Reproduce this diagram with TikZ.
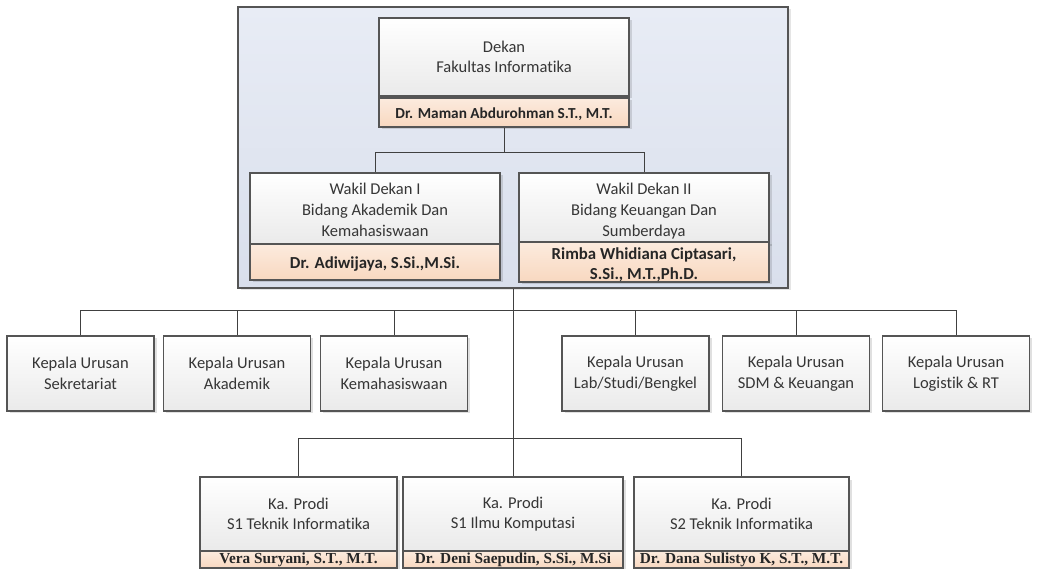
\documentclass[tikz,border=0pt]{standalone}
\usepackage{fontspec}
\setmainfont{Carlito}[Ligatures=NoCommon]
\newfontfamily\serifb{Liberation Serif}
\usetikzlibrary{shadows,calc}
\definecolor{bordc}{HTML}{555555}
\definecolor{linec}{HTML}{404040}
\definecolor{txtc}{HTML}{363636}
\definecolor{peachT}{HTML}{FCEBDE}
\definecolor{peachB}{HTML}{F8D8C0}
\definecolor{outerT}{HTML}{E8ECF5}
\definecolor{outerB}{HTML}{D9DFEC}
\definecolor{boxB}{HTML}{EAEAEA}
\newcommand\shiftlines[2]{\raisebox{#1}[\height][\depth]{\begin{tabular}{@{}c@{}}#2\end{tabular}}}
\tikzset{
  box/.style={draw=bordc, line width=1.1pt, rectangle, top color=white, bottom color=boxB,
    align=center, text=txtc, inner sep=0pt, font=\fontsize{16.5}{20.7}\selectfont,
    drop shadow={shadow xshift=2.5pt, shadow yshift=-2.5pt, fill=black, opacity=0.12}},
  namebox/.style={box, top color=peachT, bottom color=peachB, text=black!85,
    font=\fontsize{16.8}{20}\selectfont\bfseries},
  prodiname/.style={namebox, font=\fontsize{15.3}{16}\selectfont\serifb\bfseries},
  conn/.style={draw=linec, line width=1pt},
}
\begin{document}
\begin{tikzpicture}[x=1pt,y=-1pt]
\useasboundingbox (0,0) rectangle (1037,569);
\fill[white] (0,0) rectangle (1037,569);
% outer group
\node[draw=bordc, line width=1.2pt, top color=outerT, bottom color=outerB, inner sep=0pt,
  minimum width=550pt, minimum height=281pt,
  drop shadow={shadow xshift=2.5pt, shadow yshift=-2.5pt, fill=black, opacity=0.10}] (outer) at (513,147.5) {};
% dekan
\node[box, minimum width=250pt, minimum height=78pt, font=\fontsize{16.5}{20}\selectfont] (dekan) at (504,57) {Dekan\\Fakultas Informatika};
\node[namebox, minimum width=250pt, minimum height=29pt, font=\fontsize{15.3}{18}\selectfont\bfseries] (dekanN) at (504,112.5) {\shiftlines{-2.5pt}{Dr. Maman Abdurohman S.T., M.T.}};
% wakil
\node[box, minimum width=250pt, minimum height=71pt] (w1) at (375,208.5) {\shiftlines{-3pt}{Wakil Dekan I\\Bidang Akademik Dan\\Kemahasiswaan}};
\node[namebox, minimum width=250pt, minimum height=36pt] (w1N) at (375,262) {\shiftlines{-3pt}{Dr. Adiwijaya, S.Si.,M.Si.}};
\node[box, minimum width=250pt, minimum height=71pt] (w2) at (644,208.5) {\shiftlines{-3pt}{Wakil Dekan II\\Bidang Keuangan Dan\\Sumberdaya}};
\node[namebox, minimum width=250pt, minimum height=36pt] (w2N) at (644,262) {\shiftlines{-4pt}{Rimba Whidiana Ciptasari,\\S.Si., M.T.,Ph.D.}};
% connectors dekan -> wakil
\draw[conn] (dekanN.south) -- ++(0,25) -| (w1.north);
\draw[conn] (dekanN.south) -- ++(0,25) -| (w2.north);
% kepala urusan
\tikzset{kbox/.style={box, minimum width=147pt, minimum height=75pt, font=\fontsize{16.5}{21.5}\selectfont}}
\node[kbox] (k1) at (80.5,373.5) {Kepala Urusan\\Sekretariat};
\node[kbox] (k2) at (237,373.5) {Kepala Urusan\\Akademik};
\node[kbox] (k3) at (394,373.5) {Kepala Urusan\\Kemahasiswaan};
\node[kbox] (k4) at (635.5,373.5) {Kepala Urusan\\Lab/Studi/Bengkel};
\node[kbox] (k5) at (796,373.5) {Kepala Urusan\\SDM \& Keuangan};
\node[kbox] (k6) at (956,373.5) {Kepala Urusan\\Logistik \& RT};
% prodi
\node[box, minimum width=197pt, minimum height=74pt, font=\fontsize{16.5}{20}\selectfont] (p1) at (298.5,514) {Ka. Prodi\\S1 Teknik Informatika};
\node[prodiname, minimum width=197pt, minimum height=17pt] (p1N) at (298.5,559.5) {Vera Suryani, S.T., M.T.};
\node[box, minimum width=220pt, minimum height=74pt, font=\fontsize{16.5}{20}\selectfont] (p2) at (513,514) {Ka. Prodi\\S1 Ilmu Komputasi};
\node[prodiname, minimum width=220pt, minimum height=17pt] (p2N) at (513,559.5) {Dr. Deni Saepudin, S.Si., M.Si};
\node[box, minimum width=215pt, minimum height=74pt, font=\fontsize{16.5}{20}\selectfont] (p3) at (741.5,514) {Ka. Prodi\\S2 Teknik Informatika};
\node[prodiname, minimum width=215pt, minimum height=17pt] (p3N) at (741.5,559.5) {Dr. Dana Sulistyo K, S.T., M.T.};
% main connectors
\coordinate (kb) at ($(outer.south)+(0,22)$);
\coordinate (pb) at ($(outer.south)+(0,150)$);
\draw[conn] (outer.south) -- (p2.north);
\foreach \k in {k1,k2,k3,k4,k5,k6} {\draw[conn] (kb) -| (\k.north);}
\draw[conn] (pb) -| (p1.north);
\draw[conn] (pb) -| (p3.north);
\end{tikzpicture}
\end{document}
